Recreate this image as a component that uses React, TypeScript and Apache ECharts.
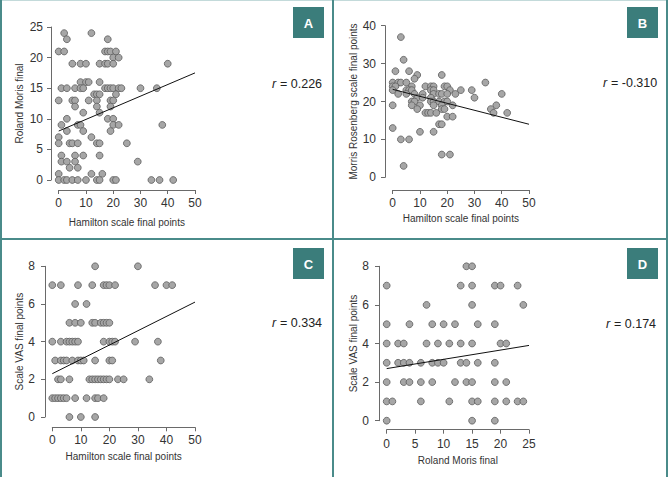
import React, { useEffect, useRef } from "react";
import * as echarts from "echarts";

// ---------- DATA ----------
const pointsA: [number, number][] = [
  [2, 24], [12, 24], [3, 23], [18, 23],
  [0, 21], [2, 21], [17, 21], [18, 21], [19, 21], [21, 21],
  [20, 20], [22, 20],
  [5, 19], [8, 19], [10, 19], [15, 19], [17, 19], [18, 19], [20, 19], [40, 19],
  [8, 16], [10, 16], [11, 16], [15, 16],
  [1, 15], [3, 15], [6, 15], [8, 15], [9, 15], [17, 15], [18, 15], [19, 15], [20, 15], [22, 15], [23, 15], [30, 15], [36, 15],
  [13, 14], [14, 14], [15, 14], [21, 14],
  [0, 13], [5, 13], [6, 13], [11, 13], [14, 13], [19, 13], [20, 13],
  [6, 12], [14, 12], [19, 12],
  [9, 11], [15, 11],
  [3, 10], [18, 10], [20, 10],
  [1, 9], [7, 9], [8, 9], [20, 9], [22, 9], [38, 9],
  [3, 8], [9, 8], [19, 8],
  [0, 7], [12, 7],
  [0, 6], [4, 6], [5, 6], [7, 6], [14, 6], [15, 6], [25, 6],
  [1, 4], [6, 4], [9, 4], [15, 4],
  [1, 3], [3, 3], [6, 3], [29, 3],
  [4, 2], [7, 2],
  [0, 1], [12, 1], [16, 1],
  [0, 0], [2, 0], [3, 0], [5, 0], [7, 0], [10, 0], [14, 0], [15, 0], [20, 0], [21, 0], [34, 0], [37, 0], [42, 0],
];

const pointsB: [number, number][] = [
  [3, 37], [4, 31], [1, 28], [6, 28], [9, 27], [18, 27], [8, 26],
  [0, 25], [2, 25], [3, 25], [5, 25], [34, 25],
  [0, 24], [1, 24], [7, 24], [12, 24], [14, 24], [15, 24], [19, 24], [20, 24],
  [0, 23], [5, 23], [6, 23], [7, 23], [14, 23], [15, 23], [21, 23], [25, 23], [29, 23],
  [2, 22], [5, 22], [8, 22], [11, 22], [15, 22], [17, 22], [18, 22], [20, 22], [23, 22], [40, 22],
  [9, 21], [11, 21], [14, 21], [30, 21],
  [7, 20], [8, 20], [14, 20], [15, 20], [17, 20], [19, 20], [20, 20],
  [0, 19], [7, 19], [10, 19], [15, 19], [18, 19], [22, 19], [38, 19],
  [9, 18], [18, 18], [19, 18], [36, 18],
  [12, 17], [13, 17], [14, 17], [16, 17], [37, 17], [42, 17],
  [20, 16], [22, 16],
  [17, 14], [18, 14],
  [0, 13],
  [10, 12], [15, 12],
  [3, 10], [6, 10],
  [18, 6], [21, 6],
  [4, 3],
];

const pointsC: [number, number][] = [
  [15, 8], [30, 8],
  [0, 7], [3, 7], [9, 7], [14, 7], [18, 7], [19, 7], [20, 7], [22, 7], [36, 7], [40, 7], [42, 7],
  [8, 6], [12, 6],
  [6, 5], [8, 5], [10, 5], [14, 5], [15, 5], [17, 5], [18, 5], [19, 5], [20, 5],
  [0, 4], [3, 4], [5, 4], [6, 4], [7, 4], [8, 4], [9, 4], [18, 4], [20, 4], [21, 4], [22, 4], [29, 4], [37, 4],
  [1, 3], [3, 3], [4, 3], [5, 3], [7, 3], [9, 3], [10, 3], [11, 3], [15, 3], [20, 3], [21, 3], [38, 3],
  [2, 2], [3, 2], [6, 2], [13, 2], [14, 2], [15, 2], [16, 2], [17, 2], [18, 2], [19, 2], [20, 2], [23, 2], [25, 2], [34, 2],
  [0, 1], [1, 1], [2, 1], [3, 1], [4, 1], [5, 1], [8, 1], [12, 1], [15, 1], [16, 1], [18, 1],
  [6, 0], [10, 0], [15, 0],
];

const pointsD: [number, number][] = [
  [14, 8], [15, 8],
  [0, 7], [13, 7], [15, 7], [19, 7], [20, 7], [23, 7],
  [7, 6], [15, 6], [24, 6],
  [0, 5], [4, 5], [8, 5], [10, 5], [12, 5], [16, 5], [19, 5],
  [0, 4], [2, 4], [3, 4], [7, 4], [9, 4], [11, 4], [13, 4], [15, 4], [20, 4], [21, 4],
  [0, 3], [2, 3], [3, 3], [4, 3], [6, 3], [8, 3], [9, 3], [10, 3], [13, 3], [14, 3], [16, 3], [19, 3],
  [0, 2], [3, 2], [4, 2], [6, 2], [8, 2], [12, 2], [14, 2], [15, 2], [19, 2], [21, 2],
  [0, 1], [1, 1], [6, 1], [11, 1], [15, 1], [16, 1], [19, 1], [21, 1], [23, 1], [24, 1],
  [0, 0], [15, 0], [19, 0],
];

// regression line end points
const fitA: [number, number][] = [[0, 8.0], [50, 17.5]];
const fitB: [number, number][] = [[0, 23.2], [50, 14.0]];
const fitC: [number, number][] = [[0, 2.3], [50, 6.1]];
const fitD: [number, number][] = [[0, 2.7], [25, 3.9]];

const panelLetters = ["A", "B", "C", "D"];
const rValues = ["0.226", "-0.310", "0.334", "0.174"];
const xTitles = [
  "Hamilton scale final points",
  "Hamilton scale final points",
  "Hamilton scale final points",
  "Roland Moris final",
];
const yTitles = [
  "Roland Moris final",
  "Morris Rosenberg scale final points",
  "Scale VAS final points",
  "Scale VAS final points",
];
const xMax = [50, 50, 50, 25];
const xStep = [10, 10, 10, 5];
const yMax = [25, 40, 8, 8];
const yStep = [5, 10, 2, 2];

// ---------- LAYOUT ----------
const FONT = "'Liberation Sans', Arial, Helvetica, sans-serif";
const TEAL = "#3b7d7b";
const grids = [
  { left: 58.7, top: 27, width: 136.3, height: 153 },
  { left: 392.7, top: 25.7, width: 136.3, height: 151.6 },
  { left: 52.3, top: 266.3, width: 142.7, height: 150.7 },
  { left: 386.7, top: 266.3, width: 142.3, height: 154.4 },
];
const xOffsets = [10, 12.7, 10.3, 9];
const yOffsets = [7.7, 7.7, 7.3, 7.7];
const xNameGaps = [27, 23, 24, 26];
const yNameGaps = [27, 27, 21, 21];
const xLabelMargins = [7, 7, 7, 8];
const yLabelMargins = [8, 9, 10, 10];
const boxPos = [
  [293, 7],
  [627, 7],
  [293, 248],
  [627, 248],
];
const rPos = [
  [272, 84],
  [603, 83],
  [272, 323],
  [606, 324],
];

export default function App() {
  const ref = useRef<HTMLDivElement>(null);
  useEffect(() => {
    if (!ref.current) return;
    const chart = echarts.init(ref.current, undefined, { renderer: "svg" });
    const axisColor = "#6a6a6a";
    const pts = [pointsA, pointsB, pointsC, pointsD];
    const fits = [fitA, fitB, fitC, fitD];

    const xAxis = grids.map((_, i) => ({
      gridIndex: i,
      type: "value",
      min: 0,
      max: xMax[i],
      interval: xStep[i],
      offset: xOffsets[i],
      axisLine: { show: true, onZero: false, lineStyle: { color: axisColor, width: 1 } },
      axisTick: { show: true, length: 4, lineStyle: { color: axisColor, width: 1 } },
      axisLabel: { margin: xLabelMargins[i], fontSize: 12, color: "#333", fontFamily: FONT },
      splitLine: { show: false },
      name: xTitles[i],
      nameLocation: "middle",
      nameGap: xNameGaps[i],
      nameTextStyle: { fontSize: 10, color: "#333", fontFamily: FONT },
    }));
    const yAxis = grids.map((_, i) => ({
      gridIndex: i,
      type: "value",
      min: 0,
      max: yMax[i],
      interval: yStep[i],
      offset: yOffsets[i],
      axisLine: { show: true, onZero: false, lineStyle: { color: axisColor, width: 1 } },
      axisTick: { show: true, length: 4, lineStyle: { color: axisColor, width: 1 } },
      axisLabel: { margin: yLabelMargins[i], fontSize: 12, color: "#333", fontFamily: FONT },
      splitLine: { show: false },
      name: yTitles[i],
      nameLocation: "middle",
      nameGap: yNameGaps[i],
      nameTextStyle: { fontSize: 10, color: "#333", fontFamily: FONT },
    }));

    const series: any[] = [];
    pts.forEach((p, i) => {
      series.push({
        type: "scatter",
        xAxisIndex: i,
        yAxisIndex: i,
        data: p,
        symbol: "circle",
        symbolSize: 6.8,
        clip: false,
        itemStyle: { color: "#a6a6a6", borderColor: "#5c5c5c", borderWidth: 0.8, opacity: 1 },
        z: 2,
      });
      series.push({
        type: "line",
        xAxisIndex: i,
        yAxisIndex: i,
        data: fits[i],
        showSymbol: false,
        symbol: "none",
        lineStyle: { color: "#111", width: 1 },
        z: 3,
      });
    });

    const graphic: any[] = [];
    // panel borders
    graphic.push({ type: "line", shape: { x1: 0, y1: 0.5, x2: 668, y2: 0.5 }, style: { stroke: "#c3dada", lineWidth: 1 } });
    graphic.push({ type: "line", shape: { x1: 1, y1: 0, x2: 1, y2: 477 }, style: { stroke: "#4a8b8a", lineWidth: 2 } });
    graphic.push({ type: "line", shape: { x1: 333, y1: 0, x2: 333, y2: 477 }, style: { stroke: "#4a8b8a", lineWidth: 2 } });
    graphic.push({ type: "line", shape: { x1: 667, y1: 0, x2: 667, y2: 477 }, style: { stroke: "#4a8b8a", lineWidth: 2 } });
    graphic.push({ type: "line", shape: { x1: 0, y1: 239, x2: 668, y2: 239 }, style: { stroke: "#4a8b8a", lineWidth: 2 } });
    panelLetters.forEach((letter, i) => {
      const [bx, by] = boxPos[i];
      graphic.push({ type: "rect", shape: { x: bx, y: by, width: 31, height: 31 }, style: { fill: TEAL } });
      graphic.push({
        type: "text",
        x: bx + 15.5,
        y: by + 16,
        style: { text: letter, fill: "#fff", font: `bold 13px ${FONT}`, align: "center", verticalAlign: "middle" },
      });
      const [rx, ry] = rPos[i];
      graphic.push({
        type: "text",
        x: rx,
        y: ry,
        style: { text: "r", fill: "#222", font: `italic 12.5px ${FONT}`, align: "left", verticalAlign: "middle" },
      });
      graphic.push({
        type: "text",
        x: rx + 8,
        y: ry,
        style: { text: `= ${rValues[i]}`, fill: "#222", font: `12.5px ${FONT}`, align: "left", verticalAlign: "middle" },
      });
    });

    chart.setOption({
      animation: false,
      backgroundColor: "#ffffff",
      grid: grids.map((g) => ({ ...g, containLabel: false })),
      xAxis,
      yAxis,
      series,
      graphic,
    });
    return () => chart.dispose();
  }, []);
  return (
    <div
      ref={ref}
      style={{ position: "fixed", left: 0, top: 0, width: 668, height: 477 }}
    />
  );
}
